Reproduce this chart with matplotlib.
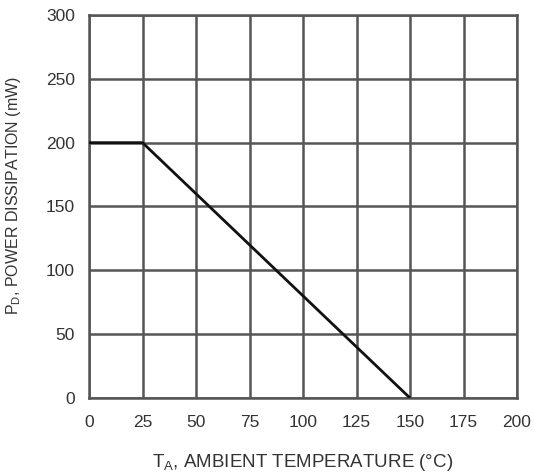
import matplotlib
matplotlib.use("Agg")
import matplotlib.pyplot as plt

temps = [0, 25, 150]
power = [200, 200, 0]
xticks = [0, 25, 50, 75, 100, 125, 150, 175, 200]
yticks = [0, 50, 100, 150, 200, 250, 300]

plt.rcParams['font.family'] = ['Liberation Sans', 'DejaVu Sans']
plt.rcParams['mathtext.default'] = 'regular'

fig = plt.figure(figsize=(5.33, 4.73), dpi=100)
ax = fig.add_axes([89/533, 1-398/473, (517-89)/533, (398-15)/473])
ax.set_xlim(0, 200)
ax.set_ylim(0, 300)
ax.set_xticks(xticks)
ax.set_yticks(yticks)
ax.grid(True, color='#555555', linewidth=1.8)
ax.set_axisbelow(True)
for s in ax.spines.values():
    s.set_color('#555555')
    s.set_linewidth(1.8)
ax.tick_params(length=0, labelsize=12.5, colors='#333333')
ax.tick_params(axis='y', pad=10)
ax.tick_params(axis='x', pad=12)
ax.plot(temps, power, color='#111111', linewidth=2.0, solid_capstyle='butt', zorder=3)
ax.set_xlabel('T$_A$, AMBIENT TEMPERATURE (°C)', fontsize=13.5, color='#333333', labelpad=16)
ax.set_ylabel('P$_D$, POWER DISSIPATION (mW)', fontsize=11.5, color='#333333', labelpad=12)
ax.yaxis.set_label_coords(-0.155, 0.53)
fig.savefig('out.png', dpi=100)
